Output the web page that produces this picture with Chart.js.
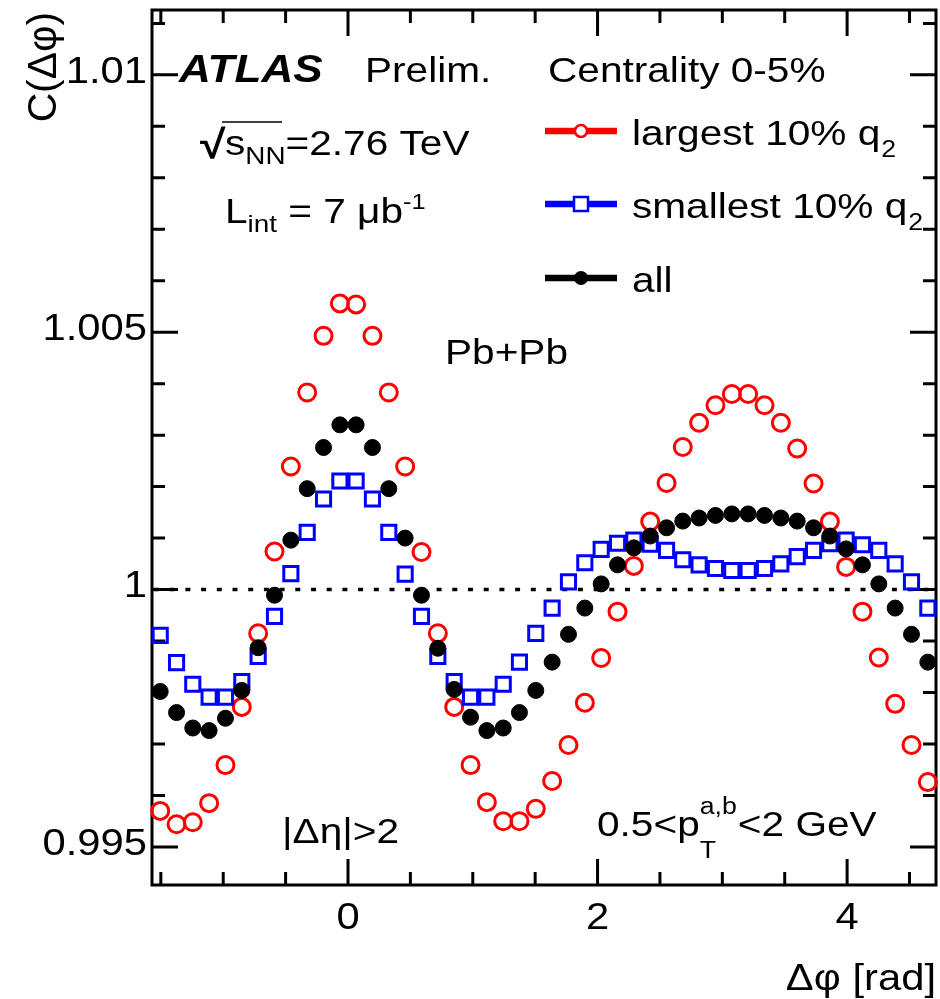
<!DOCTYPE html>
<html>
<head>
<meta charset="utf-8">
<script src="https://cdn.jsdelivr.net/npm/chart.js@4.4.1/dist/chart.umd.min.js"></script>
<style>
  html, body { margin: 0; padding: 0; background: #fff; }
  #wrap { width: 940px; height: 999px; }
</style>
</head>
<body>
<div id="wrap"><canvas id="corrChart" width="940" height="999"></canvas></div>
<script>
// delta-phi bin centres (48 bins from -pi/2 to 3pi/2)
const dphi = [
  -1.505, -1.374, -1.244, -1.113, -0.982, -0.851, -0.720, -0.589, -0.458, -0.327, -0.196, -0.065,
   0.065,  0.196,  0.327,  0.458,  0.589,  0.720,  0.851,  0.982,  1.113,  1.244,  1.374,  1.505,
   1.636,  1.767,  1.898,  2.029,  2.160,  2.291,  2.422,  2.553,  2.683,  2.814,  2.945,  3.076,
   3.207,  3.338,  3.469,  3.600,  3.731,  3.862,  3.992,  4.123,  4.254,  4.385,  4.516,  4.647
];

// C(dphi), largest 10% q2
const largestQ2 = [
  0.99570, 0.99544, 0.99548, 0.99585, 0.99659, 0.99772, 0.99915, 1.00074, 1.00239, 1.00383, 1.00493, 1.00556,
  1.00554, 1.00493, 1.00383, 1.00239, 1.00073, 0.99915, 0.99772, 0.99659, 0.99587, 0.99550, 0.99550, 0.99574,
  0.99628, 0.99698, 0.99780, 0.99867, 0.99957, 1.00046, 1.00132, 1.00207, 1.00277, 1.00324, 1.00358, 1.00380,
  1.00380, 1.00358, 1.00324, 1.00274, 1.00206, 1.00132, 1.00044, 0.99957, 0.99868, 0.99778, 0.99698, 0.99626
];

// C(dphi), smallest 10% q2
const smallestQ2 = [
  0.99911, 0.99858, 0.99816, 0.99791, 0.99791, 0.99821, 0.99870, 0.99948, 1.00031, 1.00111, 1.00176, 1.00211,
  1.00211, 1.00176, 1.00111, 1.00030, 0.99948, 0.99870, 0.99821, 0.99791, 0.99791, 0.99816, 0.99859, 0.99915,
  0.99964, 1.00015, 1.00052, 1.00078, 1.00090, 1.00096, 1.00088, 1.00076, 1.00058, 1.00048, 1.00041, 1.00037,
  1.00037, 1.00041, 1.00050, 1.00064, 1.00076, 1.00089, 1.00096, 1.00087, 1.00076, 1.00050, 1.00015, 0.99964
];

// C(dphi), all events
const allEvents = [
  0.99802, 0.99761, 0.99731, 0.99726, 0.99750, 0.99804, 0.99887, 0.99989, 1.00096, 1.00196, 1.00276, 1.00320,
  1.00320, 1.00276, 1.00196, 1.00100, 0.99989, 0.99886, 0.99806, 0.99752, 0.99726, 0.99731, 0.99761, 0.99804,
  0.99859, 0.99913, 0.99964, 1.00011, 1.00048, 1.00081, 1.00104, 1.00120, 1.00133, 1.00139, 1.00144, 1.00147,
  1.00147, 1.00144, 1.00139, 1.00133, 1.00120, 1.00104, 1.00079, 1.00048, 1.00011, 0.99964, 0.99913, 0.99859
];

// axis ticks
const xMajorTicks = [0, 2, 4];
const xTickLabels = ['0', '2', '4'];
const yMajorTicks = [0.995, 1, 1.005, 1.01];
const yTickLabels = ['0.995', '1', '1.005', '1.01'];

const FONT = "'Liberation Sans', Arial, Helvetica, sans-serif";
const SX = 1.16; // the ROOT text is a bit wider than Liberation Sans

function toPoints(ys) {
  return dphi.map((x, i) => ({ x: x, y: ys[i] }));
}

// stretched text, returns its drawn width
function sText(ctx, str, x, y, align, sx) {
  const k = sx || SX;
  const w = ctx.measureText(str).width * k;
  let x0 = x;
  if (align === 'right') x0 = x - w;
  if (align === 'center') x0 = x - w / 2;
  ctx.save();
  ctx.translate(x0, y);
  ctx.scale(k, 1);
  ctx.textAlign = 'left';
  ctx.fillText(str, 0, 0);
  ctx.restore();
  return w;
}

// run of pieces: [text, size, dy, style]
function richText(ctx, x, y, parts) {
  let cx = x;
  parts.forEach(p => {
    ctx.font = (p[3] || '') + ' ' + p[1] + 'px ' + FONT;
    cx += sText(ctx, p[0], cx, y + (p[2] || 0));
  });
  return cx;
}

const atlasDecor = {
  id: 'atlasDecor',
  beforeDatasetsDraw(chart) {
    const ctx = chart.ctx;
    const a = chart.chartArea;
    const xs = chart.scales.x, ys = chart.scales.y;
    ctx.save();
    // dotted line at C = 1
    ctx.strokeStyle = '#000';
    ctx.lineWidth = 3.5;
    ctx.setLineDash([5, 10.7]);
    const y1 = ys.getPixelForValue(1);
    ctx.beginPath();
    ctx.moveTo(a.left + 2, y1);
    ctx.lineTo(a.right, y1);
    ctx.stroke();
    ctx.setLineDash([]);

    // frame
    ctx.lineWidth = 3;
    ctx.strokeRect(a.left, a.top, a.right - a.left, a.bottom - a.top);

    // y ticks, both sides, pointing inward
    for (let v = 0.995; v <= 1.0115; v += 0.001) {
      const py = ys.getPixelForValue(v);
      const major = yMajorTicks.some(m => Math.abs(m - v) < 1e-6);
      const len = major ? 26 : 13;
      ctx.beginPath();
      ctx.moveTo(a.left, py); ctx.lineTo(a.left + len, py);
      ctx.moveTo(a.right, py); ctx.lineTo(a.right - len, py);
      ctx.stroke();
    }
    // x ticks, top and bottom
    for (let v = -1.5; v <= 4.51; v += 0.5) {
      const px = xs.getPixelForValue(v);
      const major = xMajorTicks.some(m => Math.abs(m - v) < 1e-6);
      const len = major ? 26 : 13;
      ctx.beginPath();
      ctx.moveTo(px, a.bottom); ctx.lineTo(px, a.bottom - len);
      ctx.moveTo(px, a.top); ctx.lineTo(px, a.top + len);
      ctx.stroke();
    }

    // tick labels
    ctx.fillStyle = '#000';
    ctx.font = '36px ' + FONT;
    ctx.textBaseline = 'middle';
    yMajorTicks.forEach((v, i) => {
      sText(ctx, yTickLabels[i], a.left - 5, ys.getPixelForValue(v) - 2, 'right');
    });
    ctx.textBaseline = 'alphabetic';
    xMajorTicks.forEach((v, i) => {
      sText(ctx, xTickLabels[i], xs.getPixelForValue(v), 929, 'center');
    });
    ctx.restore();
  },
  afterDraw(chart) {
    const ctx = chart.ctx;
    ctx.save();
    ctx.fillStyle = '#000';
    ctx.strokeStyle = '#000';
    ctx.textBaseline = 'alphabetic';

    // axis titles
    ctx.font = '36px ' + FONT;
    sText(ctx, 'Δφ [rad]', 936, 990, 'right');
    ctx.save();
    ctx.translate(56, 12);
    ctx.rotate(-Math.PI / 2);
    ctx.font = '40px ' + FONT;
    sText(ctx, 'C(Δφ)', 0, 0, 'right', 1.02);
    ctx.restore();

    // labels
    ctx.font = 'italic bold 38px ' + FONT;
    sText(ctx, 'ATLAS', 179, 82);
    ctx.font = '35px ' + FONT;
    sText(ctx, 'Prelim.', 365, 82);
    sText(ctx, 'Centrality 0-5%', 548, 82);

    // sqrt(s_NN)
    ctx.font = 'bold 40px ' + FONT;
    sText(ctx, '√', 200, 158);
    ctx.lineWidth = 1.5;
    ctx.beginPath();
    ctx.moveTo(222, 122); ctx.lineTo(282, 122);
    ctx.stroke();
    richText(ctx, 225, 155, [['s', 35], ['NN', 24, 9], ['=2.76 TeV', 35]]);
    richText(ctx, 225, 223, [['L', 35], ['int', 24, 9], [' = 7 μb', 35], ['-1', 22, -14]]);

    ctx.font = '35px ' + FONT;
    sText(ctx, 'Pb+Pb', 445, 364);
    sText(ctx, '|Δη|>2', 282, 843);
    const px = richText(ctx, 597, 836, [['0.5<p', 35]]);
    ctx.font = '23px ' + FONT;
    const w2 = sText(ctx, 'a,b', px, 814);
    sText(ctx, 'T', px, 858);
    richText(ctx, px + w2 + 1, 836, [['<2 GeV', 35]]);

    // legend
    const legend = [
      { y: 131, color: '#ff0000', text: 'largest 10% q', kind: 'circle' },
      { y: 204, color: '#0000ff', text: 'smallest 10% q', kind: 'rect' },
      { y: 278, color: '#000000', text: 'all', kind: 'dot' }
    ];
    legend.forEach(l => {
      ctx.strokeStyle = l.color;
      ctx.lineWidth = 6.5;
      ctx.beginPath();
      ctx.moveTo(545, l.y); ctx.lineTo(617, l.y);
      ctx.stroke();
      ctx.lineWidth = 2.5;
      if (l.kind === 'circle') {
        ctx.fillStyle = '#fff';
        ctx.beginPath(); ctx.arc(581, l.y, 6, 0, 2 * Math.PI); ctx.fill(); ctx.stroke();
      } else if (l.kind === 'rect') {
        ctx.fillStyle = '#fff';
        ctx.fillRect(574, l.y - 7, 14, 14); ctx.strokeRect(574, l.y - 7, 14, 14);
      } else {
        ctx.fillStyle = '#000';
        ctx.beginPath(); ctx.arc(581, l.y, 7, 0, 2 * Math.PI); ctx.fill();
      }
      ctx.fillStyle = '#000';
      const end = richText(ctx, 632, l.y + 14, [[l.text, 35]]);
      if (l.kind !== 'dot') richText(ctx, end + 1, l.y + 26, [['2', 23]]);
    });
    ctx.restore();
  }
};

const ctx = document.getElementById('corrChart').getContext('2d');
const corrChart = new Chart(ctx, {
  type: 'scatter',
  data: {
    datasets: [
      {
        label: 'all',
        data: toPoints(allEvents),
        pointStyle: 'circle',
        pointRadius: 8,
        pointBorderWidth: 1,
        borderColor: '#000',
        backgroundColor: '#000',
        clip: false,
        order: 0
      },
      {
        label: 'smallest 10% q2',
        data: toPoints(smallestQ2),
        pointStyle: 'rect',
        pointRadius: 10,
        pointBorderWidth: 3,
        borderColor: '#0000ff',
        backgroundColor: 'rgba(0,0,0,0)',
        clip: false,
        order: 1
      },
      {
        label: 'largest 10% q2',
        data: toPoints(largestQ2),
        pointStyle: 'circle',
        pointRadius: 8.5,
        pointBorderWidth: 3,
        borderColor: '#ff0000',
        backgroundColor: 'rgba(0,0,0,0)',
        clip: false,
        order: 2
      }
    ]
  },
  options: {
    responsive: false,
    animation: false,
    layout: { autoPadding: false, padding: { left: 0, right: 4, top: 10, bottom: 0 } },
    plugins: { legend: { display: false }, tooltip: { enabled: false } },
    scales: {
      x: {
        type: 'linear',
        min: -Math.PI / 2,
        max: 1.5 * Math.PI,
        grid: { display: false },
        border: { display: false },
        ticks: { display: false },
        afterFit(scale) { scale.height = 114; }
      },
      y: {
        type: 'linear',
        min: 0.99426,
        max: 1.01126,
        grid: { display: false },
        border: { display: false },
        ticks: { display: false },
        afterFit(scale) { scale.width = 152; }
      }
    }
  },
  plugins: [atlasDecor]
});
</script>
</body>
</html>
